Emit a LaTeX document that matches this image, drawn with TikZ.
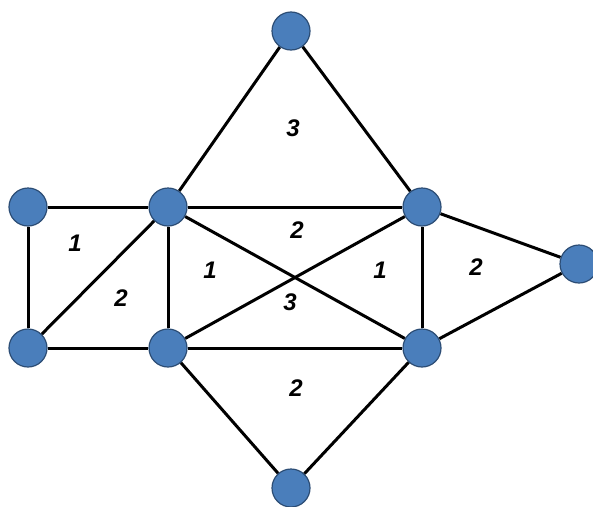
\documentclass[tikz,border=0pt]{standalone}
\usepackage{fontspec}
\setmainfont{Liberation Sans}
\usepackage{tikz}
\usetikzlibrary{backgrounds}

\definecolor{vfill}{HTML}{4A7EBB}
\definecolor{vedge}{HTML}{2C4D75}

\tikzset{
  vtx/.style={circle,fill=vfill,draw=vedge,line width=1.2pt,minimum size=38pt,inner sep=0pt},
  edge/.style={line width=3pt,black},
  cnt/.style={font=\fontsize{24}{24}\selectfont\bfseries\itshape}
}

\begin{document}
\begin{tikzpicture}[x=1pt,y=-1pt]
        \useasboundingbox (0,0) rectangle (593,506);
        % 顶点
        \node [vtx] (top) at(291,31) {};
        \node [vtx] (lt) at(28,207) {};
        \node [vtx] (mt) at(168,207) {};
        \node [vtx] (rt) at(422,207) {};
        \node [vtx] (fr) at(579,264) {};
        \node [vtx] (lb) at(28,348) {};
        \node [vtx] (mb) at(168,348) {};
        \node [vtx] (rb) at(422,348) {};
        \node [vtx] (bot) at(291,488) {};
        % 边
        \begin{scope}[on background layer]
        \draw [edge] (top)--(mt);
        \draw [edge] (top)--(rt);
        \draw [edge] (lt)--(mt);
        \draw [edge] (lt)--(lb);
        \draw [edge] (mt)--(lb);
        \draw [edge] (lb)--(mb);
        \draw [edge] (mt)--(mb);
        \draw [edge] (mt)--(rt);
        \draw [edge] (mt)--(rb);
        \draw [edge] (mb)--(rt);
        \draw [edge] (mb)--(rb);
        \draw [edge] (rt)--(rb);
        \draw [edge] (rt)--(fr);
        \draw [edge] (rb)--(fr);
        \draw [edge] (mb)--(bot);
        \draw [edge] (rb)--(bot);
        \end{scope}
        % 数字
        \node [cnt] (n1) at(293,128) {3};
        \node [cnt] (n2) at(75,243) {1};
        \node [cnt] (n3) at(121,298) {2};
        \node [cnt] (n4) at(297,230) {2};
        \node [cnt] (n5) at(210,270) {1};
        \node [cnt] (n6) at(290,302) {3};
        \node [cnt] (n7) at(380,270) {1};
        \node [cnt] (n8) at(476,267) {2};
        \node [cnt] (n9) at(296,388) {2};
\end{tikzpicture}
\end{document}
